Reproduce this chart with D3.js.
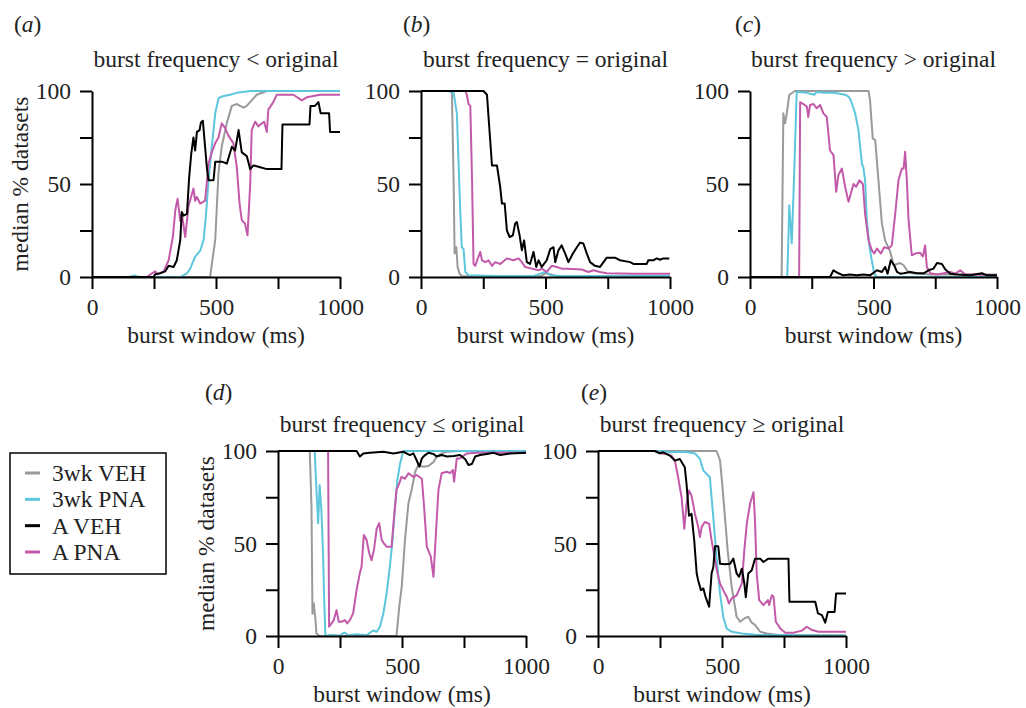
<!DOCTYPE html>
<html>
<head>
<meta charset="utf-8">
<script src="https://cdn.jsdelivr.net/npm/d3@7"></script>
<style>
  html, body { margin: 0; padding: 0; background: #fff; }
  svg text { font-family: "Liberation Serif", "Times New Roman", serif; fill: #222; }
</style>
</head>
<body>
<svg id="chart" width="1026" height="708"></svg>
<script>
// Series: [burst window (ms), median % datasets]
const seriesNames = ["3wk VEH", "3wk PNA", "A VEH", "A PNA"];
const panelTitles = [
  "burst frequency < original",
  "burst frequency = original",
  "burst frequency > original",
  "burst frequency \u2264 original",
  "burst frequency \u2265 original"
];
const panelLetters = ["a", "b", "c", "d", "e"];
const xTicks = [0, 250, 500, 750, 1000];
const xTickLabels = ["0", "", "500", "", "1000"];
const yTicks = [0, 25, 50, 75, 100];
const yTickLabels = ["0", "", "50", "", "100"];

// (a) burst frequency < original
const lowerVeh3wk = [[0,0],[476,0],[497,20],[510,56],[523,70],[544,83],[564,92],[584,93],[611,91],[624,92],[644,95],[664,98],[705,100],[1000,100]];
const lowerPna3wk = [[0,0],[150,0],[170,0.8],[190,0],[356,0],[383,2],[396,4.5],[416,11],[436,14],[450,20],[460,34],[470,52],[483,70],[497,88],[510,96],[523,97],[557,98],[584,99],[638,100],[1000,100]];
const lowerVehA = [[0,0],[248,0],[255,1.5],[275,2],[295,3],[309,6],[329,5.4],[342,9],[356,20],[362,35],[369,33],[383,34],[392,54],[400,66],[409,75],[416,68],[423,78],[434,79],[439,83],[447,84],[456,70],[463,59],[470,52],[490,52],[497,62],[523,62],[544,61],[564,70],[577,68],[591,79],[604,67],[624,65],[638,58],[651,60],[678,59],[705,58],[764,58],[768,82],[877,82],[881,92],[899,92],[913,94],[922,88],[956,88],[960,78],[1000,78]];
const lowerPnaA = [[0,0],[221,0],[242,2],[255,3],[264,1.4],[289,3],[309,9],[326,21.5],[336,36],[345,42],[356,30],[362,34],[376,21.5],[389,38],[409,47.6],[416,41],[423,43],[436,39.5],[456,41],[470,61],[483,67],[497,72],[510,75],[523,82.6],[537,80],[550,76],[570,72],[584,59],[595,39.5],[604,30.5],[617,28.7],[627,22.4],[638,50],[644,79],[658,83.5],[671,81],[685,82.6],[694,83.5],[705,78],[711,90],[731,94],[745,98],[772,98],[812,98],[846,95],[866,96.6],[919,98],[1000,98]];

// (b) burst frequency = original
const equalVeh3wk = [[0,100],[118,100],[124,99],[131,52],[135,12.6],[142,16],[147,5.4],[155,1.8],[164,0.4],[480,0.4],[500,2],[520,1.5],[540,0.4],[1000,0.4]];
const equalPna3wk = [[0,100],[111,100],[131,99],[144,88],[158,34],[164,16],[171,15],[178,2.7],[191,1],[300,0.6],[452,0.6],[480,1.8],[499,2.7],[520,1],[560,0.5],[1000,0.5]];
const equalVehA = [[0,100],[251,100],[265,98],[275,79],[285,60],[305,60],[318,48.5],[325,39.5],[336,39.5],[345,25],[356,21.5],[369,22.4],[378,28.7],[385,29.6],[396,22.4],[405,14.4],[414,19.7],[425,8],[438,7],[452,13.5],[463,5.4],[472,9],[485,5.4],[505,9],[519,15],[532,16],[539,8],[552,14.4],[565,17],[579,12.6],[592,8],[610,12.6],[626,16],[639,18.5],[652,18],[666,12.6],[679,8],[699,6],[719,5.4],[733,8],[746,10.4],[779,10.4],[799,9],[840,8],[853,7],[906,7],[913,9],[933,9],[947,10],[960,9.3],[973,10],[997,10]];
const equalPnaA = [[0,100],[178,100],[184,98],[191,93],[198,92],[205,52],[211,7],[218,6],[231,11],[238,13.5],[245,9],[258,8],[271,9],[285,6],[298,8],[318,7],[345,10],[372,9],[392,10],[405,8],[418,5.4],[445,4.5],[472,3.6],[485,4.5],[505,2.7],[525,6],[545,5.4],[565,4.5],[586,4.5],[646,4],[672,2.7],[693,3.6],[719,2.7],[746,2],[853,1.8],[1000,1.8]];

// (c) burst frequency > original
const higherVeh3wk = [[0,0],[128,0],[135,88],[142,82.6],[149,88],[159,98],[182,100],[480,100],[486,95],[497,74.5],[507,73.6],[520,52],[534,28.7],[547,19.7],[568,13.5],[581,6.3],[595,7],[608,7.5],[622,6.3],[635,3.6],[655,2],[689,1.8],[730,1.4],[1000,1.3]];
const higherPna3wk = [[0,0],[151,0],[159,38.6],[169,18],[178,52],[189,99.6],[230,99],[260,98],[270,99.5],[300,99],[340,99],[385,98],[399,97],[408,95],[426,88],[439,79],[453,61],[459,59],[466,52],[473,30.5],[484,16],[493,9],[503,1.8],[514,0],[1000,0]];
const higherVehA = [[0,0],[324,0],[338,3.6],[358,2],[378,0.9],[405,1.4],[432,0.9],[459,1.3],[486,0.9],[514,3.6],[534,2.7],[547,5.4],[557,1.8],[570,9],[584,6.3],[595,2.7],[608,1.8],[622,2],[649,2.7],[676,2],[703,2],[723,3.6],[743,4.5],[757,7.5],[777,7],[791,4],[811,1.8],[838,1.4],[892,0.9],[939,2],[959,0.9],[1000,0.9]];
const higherPnaA = [[0,0],[199,0],[203,94],[216,93],[230,91.6],[236,86],[243,92.5],[257,93],[270,90.7],[284,92.5],[297,88],[311,86],[324,68],[338,65.5],[349,45.8],[358,54.8],[372,58.3],[385,48.5],[399,40.4],[419,50],[430,48.5],[443,52],[457,50],[466,34],[480,19.7],[493,14.4],[503,12.6],[514,15.3],[530,12.6],[543,16],[561,15.3],[574,17],[588,34],[601,52],[615,58.3],[622,58.3],[628,67.3],[635,52],[642,30.5],[655,11.7],[669,12.6],[689,13],[700,11],[709,17],[716,5.4],[730,2],[757,1.4],[784,2],[811,2.7],[831,1.8],[851,3.6],[872,1.3],[919,1.3],[1000,0.9]];

// (d) burst frequency <= original
const atMostVeh3wk = [[0,100],[128,100],[135,70],[139,12],[144,17.7],[150,10.5],[155,1.4],[168,0],[478,0],[489,16],[499,26.7],[512,52],[526,71.7],[539,79],[553,88.8],[566,92.4],[586,91.5],[606,91.9],[627,94],[640,97],[660,98.7],[681,99.6],[734,100],[1000,100]];
const atMostPna3wk = [[0,100],[148,100],[155,79],[162,61],[168,81.6],[175,68],[182,43],[186,21],[191,0],[209,0.5],[250,0.3],[262,1.5],[270,1.8],[283,0.4],[317,1],[357,0.4],[384,3],[398,2.3],[411,5],[425,12.3],[438,23],[451,37.5],[462,52],[472,70],[481,84],[492,93],[505,100],[1000,100]];
const atMostVehA = [[0,100],[317,100],[330,97],[344,98.7],[371,99],[425,99.6],[465,98.7],[505,99.6],[532,97.8],[546,98.7],[559,95],[570,91.5],[580,96],[593,97.8],[606,99],[627,98.4],[640,97],[660,97.8],[681,97],[708,97.3],[734,97.8],[755,95.5],[768,92.4],[782,93],[795,97],[815,97.8],[842,98.4],[869,99],[896,97.8],[937,98.7],[1000,99]];
const atMostPnaA = [[0,100],[202,100],[206,5],[216,6.8],[225,8.6],[236,14],[245,7.7],[256,7.7],[270,8.6],[279,6.8],[290,8.6],[303,12.3],[317,25],[330,34],[337,37.5],[346,54.6],[357,52],[368,44.7],[377,41],[387,46.5],[398,58],[408,61],[418,52],[427,50],[438,48.3],[458,48.3],[468,64.5],[478,79],[489,82.5],[498,86],[512,85],[526,88],[546,86],[559,87],[580,85],[589,70],[600,48.3],[616,43],[627,32],[633,46.5],[647,79],[660,88],[681,88.8],[694,88],[705,89.7],[710,83.4],[721,96],[734,96],[761,98.7],[802,99],[869,99],[1000,99]];

// (e) burst frequency >= original
const atLeastVeh3wk = [[0,100],[478,100],[492,95],[501,82],[512,64],[523,46],[539,26.6],[559,10.4],[573,7.7],[590,9.5],[606,10.4],[620,7.2],[633,6],[654,2.3],[681,1.4],[728,0.5],[1000,0.3]];
const atLeastPna3wk = [[0,100],[256,100],[296,99.3],[350,99.6],[391,98.7],[411,95.7],[425,89.4],[438,87.6],[451,85.8],[465,64],[478,42.7],[492,23],[505,10.4],[519,4],[539,2.3],[580,1.4],[647,0.5],[1000,0.3]];
const atLeastVehA = [[0,100],[229,100],[249,98.7],[263,99.3],[290,97.5],[310,94.8],[330,95.7],[350,91.2],[357,82.2],[367,65],[377,66],[388,51.7],[398,33.8],[404,30],[415,24.8],[425,25.7],[434,21],[448,15.8],[458,33.8],[465,37.3],[472,48.5],[485,48.5],[492,39],[512,38.8],[532,39],[546,41.8],[559,33.8],[569,32],[580,36.4],[590,28.4],[596,21],[606,33.8],[620,35.5],[633,41.8],[654,41.8],[667,40],[687,41.8],[768,41.8],[772,18.5],[876,18.5],[887,12.2],[903,11.3],[916,7.2],[927,13],[954,13],[960,23],[1000,23]];
const atLeastPnaA = [[0,100],[229,100],[256,98.7],[276,98.4],[296,97.5],[310,94.8],[323,85.8],[337,75],[348,58],[357,71.5],[367,78.6],[377,76],[391,66],[404,59],[411,53.5],[418,59],[431,61.6],[448,60.7],[458,51.7],[472,41],[482,33.8],[492,28.4],[505,24.8],[519,21.2],[528,17.6],[539,20.3],[559,22],[580,28.4],[590,46.3],[600,60.7],[613,71.5],[627,77.7],[633,62.5],[640,33.8],[650,19.4],[667,16.7],[685,19.4],[690,16.7],[701,22],[708,21.2],[717,7.7],[735,4.1],[755,1.8],[788,1.8],[822,2.9],[842,5],[863,3.2],[889,2.3],[1000,2.3]];

const panelSeries = [
  [lowerVeh3wk, lowerPna3wk, lowerVehA, lowerPnaA],
  [equalVeh3wk, equalPna3wk, equalVehA, equalPnaA],
  [higherVeh3wk, higherPna3wk, higherVehA, higherPnaA],
  [atMostVeh3wk, atMostPna3wk, atMostVehA, atMostPnaA],
  [atLeastVeh3wk, atLeastPna3wk, atLeastVehA, atLeastPnaA]
];

// ---- styling & layout ----
const seriesColors = ["#9a9a9a", "#5cc6dc", "#000000", "#c25aa9"];
const drawOrder = [0, 1, 3, 2];
const FONT = 23.5;

const frames = [
  { left: 92,  right: 340, top: 91,  bottom: 277, yLabel: true,  letterX: 14,  letterY: 32,  titleY: 67 },
  { left: 421, right: 670, top: 91,  bottom: 277, yLabel: false, letterX: 403, letterY: 32,  titleY: 67 },
  { left: 750, right: 997, top: 91,  bottom: 277, yLabel: false, letterX: 735, letterY: 32,  titleY: 67 },
  { left: 278, right: 526, top: 451, bottom: 636, yLabel: true,  letterX: 205, letterY: 400, titleY: 432 },
  { left: 598, right: 846, top: 451, bottom: 636, yLabel: false, letterX: 581, letterY: 400, titleY: 432 }
];

const svg = d3.select("#chart");

frames.forEach((f, i) => {
  const x = d3.scaleLinear().domain([0, 1000]).range([f.left, f.right]);
  const y = d3.scaleLinear().domain([0, 100]).range([f.bottom, f.top]);
  const g = svg.append("g");

  // data lines
  const line = d3.line().x(d => x(d[0])).y(d => y(d[1]));
  drawOrder.forEach(s => {
    g.append("path")
      .datum(panelSeries[i][s])
      .attr("d", line)
      .attr("fill", "none")
      .attr("stroke", seriesColors[s])
      .attr("stroke-width", 2)
      .attr("stroke-linejoin", "round");
  });

  // axes
  const xAxis = d3.axisBottom(x).tickValues(xTicks)
    .tickFormat((d, k) => xTickLabels[k]).tickSize(12).tickSizeOuter(0).tickPadding(9);
  const yAxis = d3.axisLeft(y).tickValues(yTicks)
    .tickFormat((d, k) => yTickLabels[k]).tickSize(12).tickSizeOuter(0).tickPadding(9);

  const gx = g.append("g").attr("transform", `translate(0,${f.bottom})`).call(xAxis);
  const gy = g.append("g").attr("transform", `translate(${f.left},0)`).call(yAxis);
  [gx, gy].forEach(a => {
    a.select(".domain").attr("stroke", "#000").attr("stroke-width", 2);
    a.selectAll(".tick line").attr("stroke", "#000").attr("stroke-width", 2);
    a.selectAll(".tick text").attr("font-size", FONT)
      .attr("font-family", "Liberation Serif").attr("fill", "#222");
  });

  // axis titles
  g.append("text")
    .attr("x", (f.left + f.right) / 2)
    .attr("y", f.bottom + 66)
    .attr("text-anchor", "middle")
    .attr("font-size", FONT)
    .text("burst window (ms)");

  if (f.yLabel) {
    g.append("text")
      .attr("transform", `translate(${f.left - 64},${(f.top + f.bottom) / 2}) rotate(-90)`)
      .attr("text-anchor", "middle")
      .attr("font-size", FONT)
      .text("median % datasets");
  }

  // panel title
  g.append("text")
    .attr("x", (f.left + f.right) / 2)
    .attr("y", f.titleY)
    .attr("text-anchor", "middle")
    .attr("font-size", FONT)
    .text(panelTitles[i]);

  // panel letter
  const lt = g.append("text")
    .attr("x", f.letterX)
    .attr("y", f.letterY)
    .attr("font-size", FONT);
  lt.append("tspan").text("(");
  lt.append("tspan").attr("font-style", "italic").text(panelLetters[i]);
  lt.append("tspan").text(")");
});

// legend
const legend = svg.append("g");
legend.append("rect")
  .attr("x", 10).attr("y", 453).attr("width", 156).attr("height", 121)
  .attr("fill", "#fff").attr("stroke", "#000").attr("stroke-width", 1.5);
const rowY = d3.scalePoint().domain(seriesNames).range([473, 552]);
seriesNames.forEach((name, s) => {
  legend.append("line")
    .attr("x1", 25).attr("x2", 40)
    .attr("y1", rowY(name)).attr("y2", rowY(name))
    .attr("stroke", seriesColors[s]).attr("stroke-width", 3);
  legend.append("text")
    .attr("x", 52).attr("y", rowY(name) + 8)
    .attr("font-size", FONT)
    .text(name);
});
</script>
</body>
</html>
